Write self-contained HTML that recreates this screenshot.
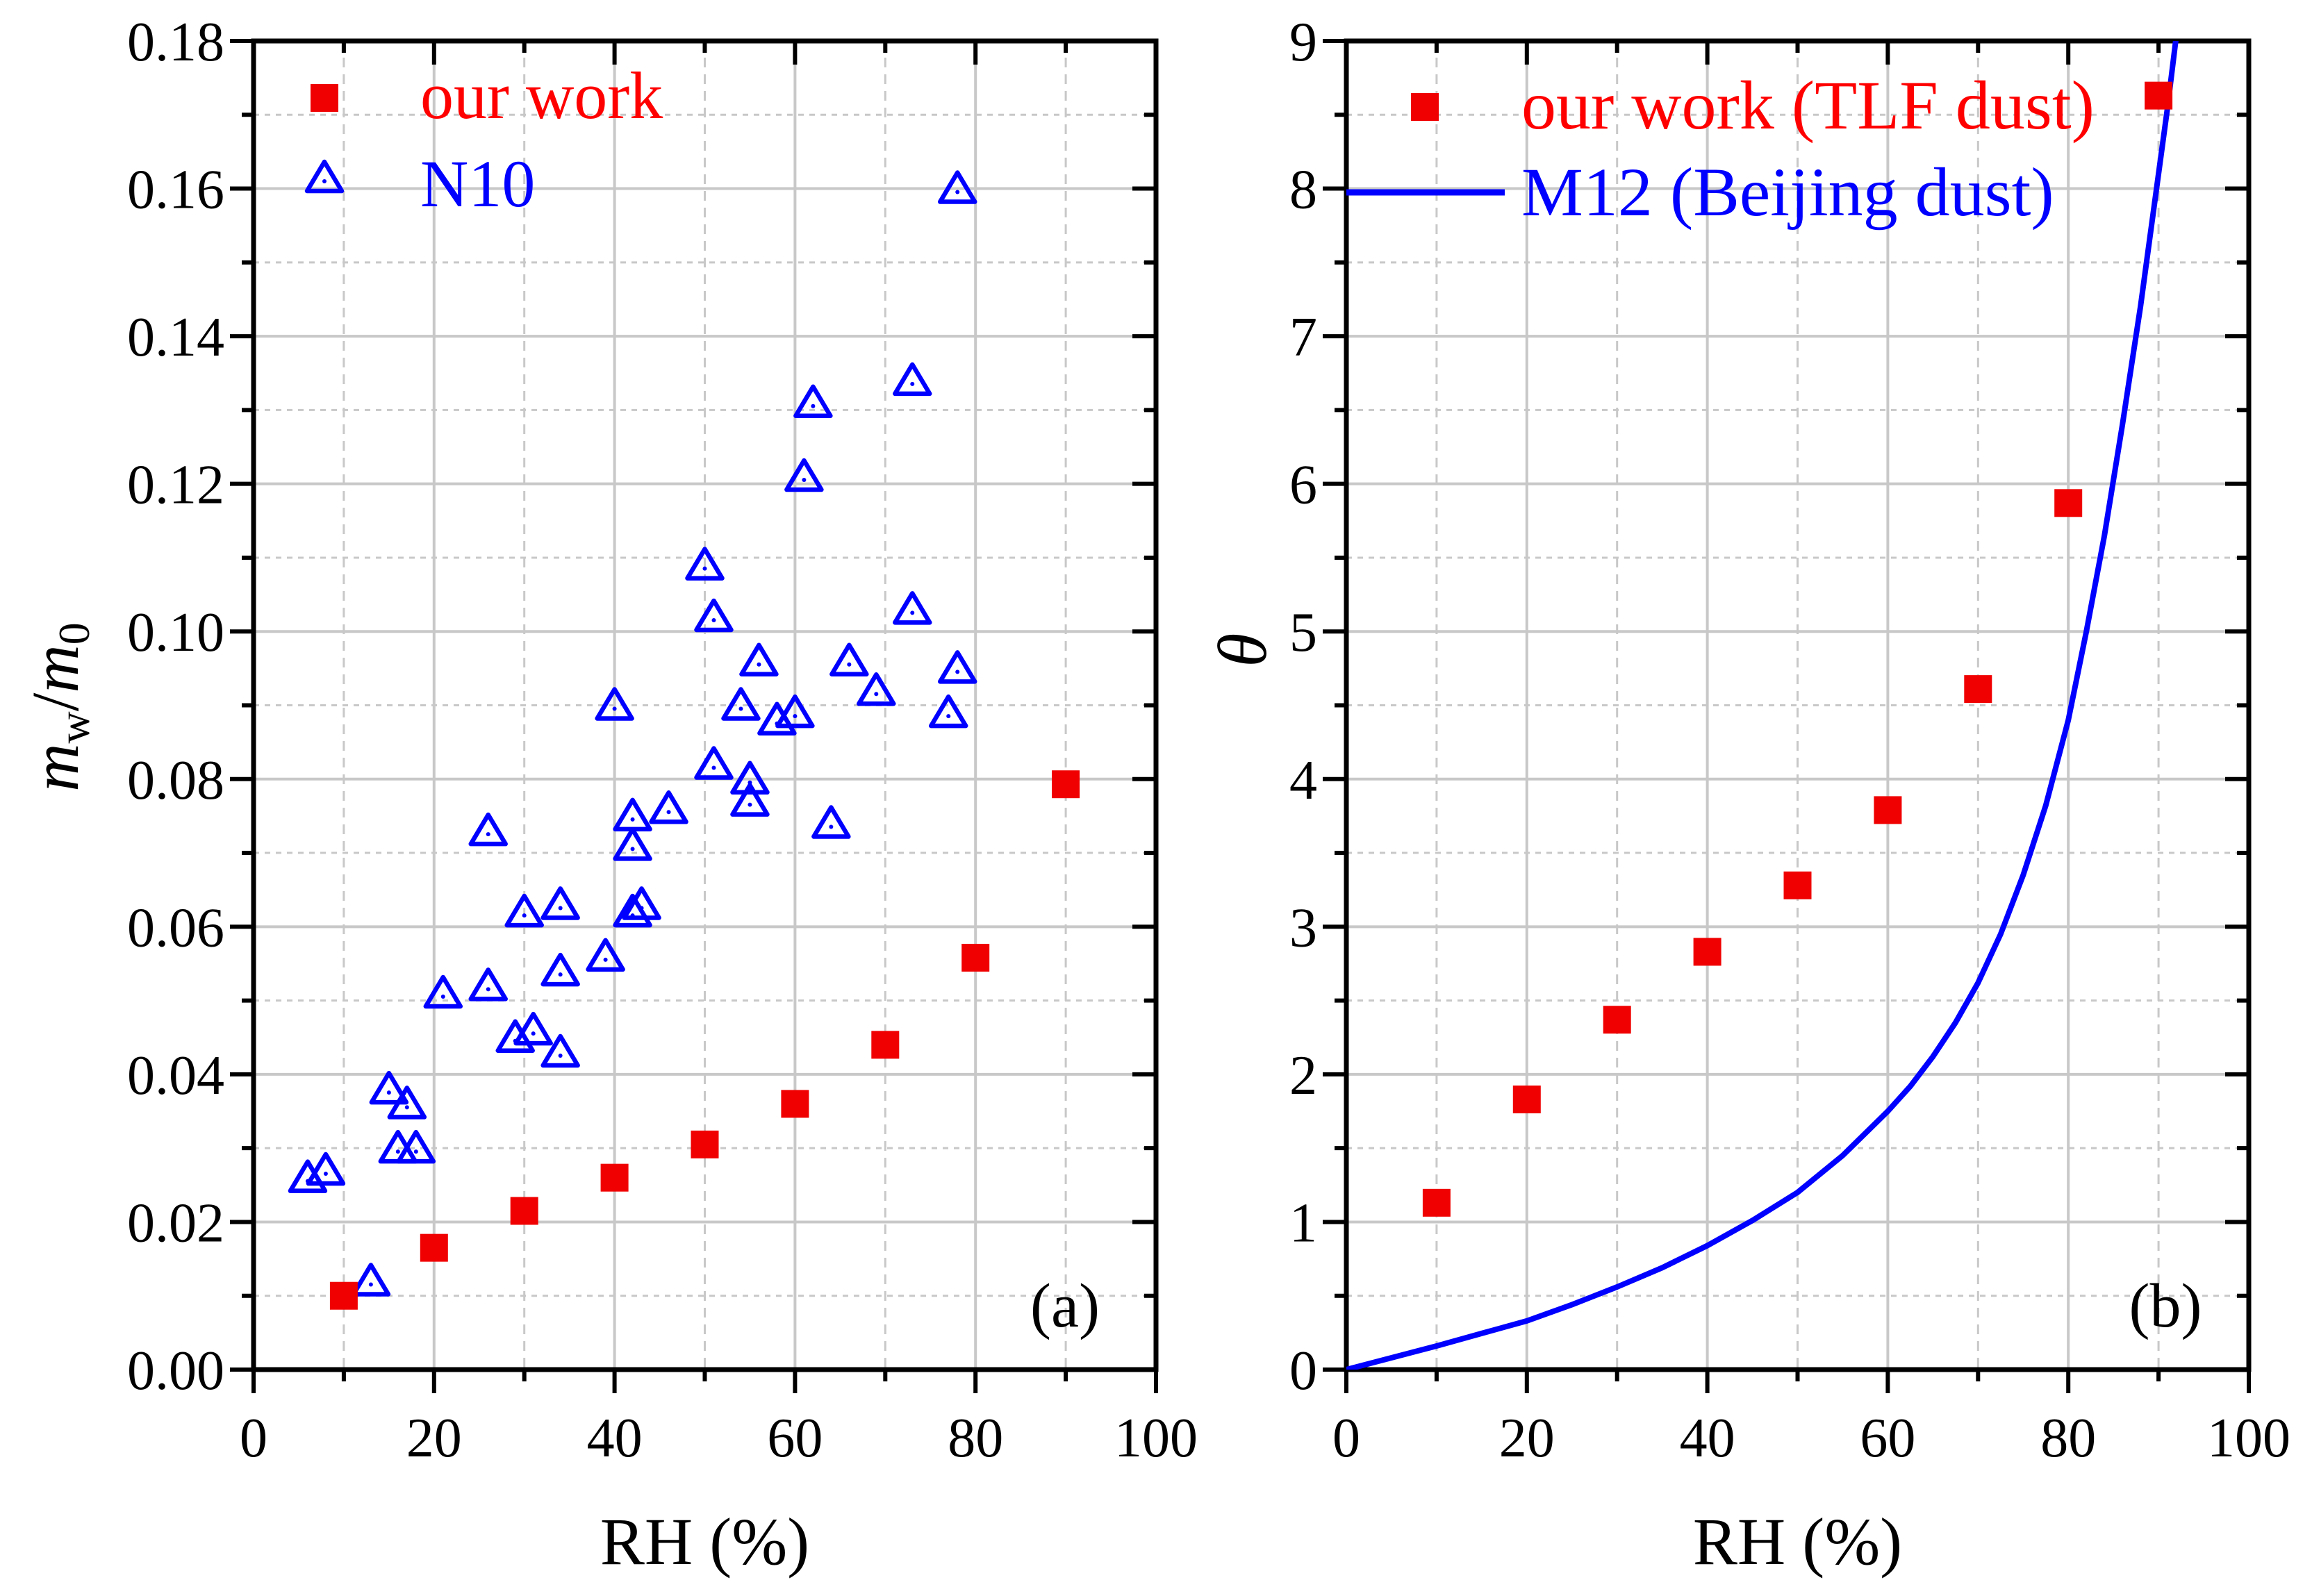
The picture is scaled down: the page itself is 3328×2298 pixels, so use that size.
<!DOCTYPE html>
<html><head><meta charset="utf-8"><style>html,body{margin:0;padding:0;background:#fff}svg{display:block}text{font-family:"Liberation Serif",serif}</style></head>
<body>
<svg id="chart" width="3328" height="2298" viewBox="0 0 3328 2298" xmlns="http://www.w3.org/2000/svg"></svg>
<script>
const ourRH = [10,20,30,40,50,60,70,80,90];
const ourMw = [0.010,0.0165,0.0215,0.026,0.0305,0.036,0.044,0.0558,0.0793];
const n10RH = [6,8,13,15,16,17,18,21,26,26,29,30,31,34,34,34,39,40,42,42,42,43,46,50,51,51,54,55,55,56,58,60,61,62,64,66,69,73,73,77,78,78];
const n10Mw = [0.026,0.027,0.012,0.038,0.030,0.036,0.030,0.051,0.073,0.052,0.045,0.062,0.046,0.063,0.054,0.043,0.056,0.090,0.075,0.071,0.062,0.063,0.076,0.109,0.102,0.082,0.090,0.080,0.077,0.096,0.088,0.089,0.121,0.131,0.074,0.096,0.092,0.134,0.103,0.089,0.095,0.160];
const ourTheta = [1.13,1.83,2.37,2.83,3.28,3.79,4.61,5.87,8.63];
const m12RH = [0,5,10,15,20,25,30,35,40,45,50,55,60,62.5,65,67.5,70,72.5,75,77.5,80,82,84,86,88,90,91,92];
const m12Theta = [0,0.08,0.16,0.245,0.33,0.44,0.56,0.69,0.84,1.01,1.2,1.45,1.75,1.92,2.12,2.35,2.62,2.95,3.35,3.82,4.4,5.0,5.65,6.4,7.2,8.1,8.55,9.05];
const xTicks = [0,20,40,60,80,100];
const yTicksA = [0,0.02,0.04,0.06,0.08,0.10,0.12,0.14,0.16,0.18];
const yTicksB = [0,1,2,3,4,5,6,7,8,9];

const NS='http://www.w3.org/2000/svg';
const svg=document.getElementById('chart');
function mk(tag,attrs,parent,txt){const e=document.createElementNS(NS,tag);for(const k in attrs)e.setAttribute(k,attrs[k]);if(txt!==undefined)e.textContent=txt;(parent||svg).appendChild(e);return e;}
const Y0=1972,Y1=59;
function panel(x0,x1,ymax,yTicks,fmt,name){
  const sx=v=>x0+(v/100)*(x1-x0);
  const sy=v=>Y0-(v/ymax)*(Y0-Y1);
  const g=mk('g',{});
  
  
  for(let v=10;v<100;v+=10){const solid=v%20===0;
    mk('line',{x1:sx(v),x2:sx(v),y1:Y1,y2:Y0,stroke:'#c8c8c8','stroke-width':solid?4:3,'stroke-dasharray':solid?'none':'14 10'},g);}
  const step=yTicks[1]-yTicks[0];
  for(let i=0;i<yTicks.length*2-1;i++){const v=i*step/2;if(i===0||v>=ymax-1e-9)continue;const solid=i%2===0;
    mk('line',{x1:x0,x2:x1,y1:sy(v),y2:sy(v),stroke:'#c8c8c8','stroke-width':solid?4:3,'stroke-dasharray':solid?'none':'8 8'},g);}
  for(let v=0;v<=100;v+=10){const maj=v%20===0;
    mk('line',{x1:sx(v),x2:sx(v),y1:Y0,y2:Y0+(maj?34:17),stroke:'#000','stroke-width':6},g);
    mk('line',{x1:sx(v),x2:sx(v),y1:Y1,y2:Y1+(maj?34:17),stroke:'#000','stroke-width':6},g);}
  for(let i=0;i<yTicks.length*2-1;i++){const v=i*step/2;const maj=i%2===0;
    mk('line',{x1:x0,x2:x0-(maj?34:17),y1:sy(v),y2:sy(v),stroke:'#000','stroke-width':6},g);
    mk('line',{x1:x1,x2:x1-(maj?34:17),y1:sy(v),y2:sy(v),stroke:'#000','stroke-width':6},g);}
  mk('rect',{x:x0,y:Y1,width:x1-x0,height:Y0-Y1,fill:'none',stroke:'#000','stroke-width':7},g);
  xTicks.forEach(v=>{const t=mk('text',{x:sx(v),y:2097,'font-size':80,'text-anchor':'middle'},g,String(v));
    });
  yTicks.forEach(v=>{const t=mk('text',{x:x0-42,y:sy(v)+28,'font-size':80,'text-anchor':'end'},g,fmt(v));
    });
  const xt=mk('text',{x:(x0+x1)/2,y:2252,'font-size':96,'text-anchor':'middle'},g,'RH (%)');
  
  return {sx,sy,g};
}
function tri(cx,cy,parent){
  const p=mk('path',{d:`M${cx},${cy-23} L${cx+25},${cy+19} L${cx-25},${cy+19} Z`,fill:'none',stroke:'#0000ff','stroke-width':6.5,'stroke-linejoin':'round'},parent);
  mk('circle',{cx:cx,cy:cy+5,r:3,fill:'#0000ff'},parent);
  return p;
}
const A=panel(365,1664,0.18,yTicksA,v=>v.toFixed(2),'panel-a');
n10RH.forEach((r,i)=>{const p=tri(A.sx(r),A.sy(n10Mw[i]),A.g);
  });
ourRH.forEach((r,i)=>{const cx=A.sx(r),cy=A.sy(ourMw[i]);
  const s=mk('rect',{x:cx-20,y:cy-20,width:40,height:40,fill:'#f00000'},A.g);
  });
let e=mk('rect',{x:447,y:121,width:40,height:40,fill:'#f00000'});
e=mk('text',{x:605,y:170,'font-size':96,fill:'#ff0000'},svg,'our work');
e=tri(467,256,svg);
e=mk('text',{x:605,y:297,'font-size':96,fill:'#0000ff'},svg,'N10');
e=mk('text',{x:1533,y:1910,'font-size':90,'text-anchor':'middle'},svg,'(a)');
e=mk('text',{x:0,y:0,'font-size':96,'text-anchor':'middle',transform:'translate(112,1018) rotate(-90)'},svg);

mk('tspan',{'font-style':'italic'},e,'m');mk('tspan',{'font-size':64,dy:16},e,'w');mk('tspan',{dy:-16},e,'/');mk('tspan',{'font-style':'italic'},e,'m');mk('tspan',{'font-size':64,dy:16},e,'0');

const B=panel(1938,3237,9,yTicksB,v=>String(v),'panel-b');
const cp=mk('clipPath',{id:'clipB'},B.g);mk('rect',{x:1938,y:Y1,width:1299,height:Y0-Y1},cp);
const d=m12RH.map((r,i)=>(i?'L':'M')+B.sx(r).toFixed(1)+','+B.sy(m12Theta[i]).toFixed(1)).join(' ');
e=mk('path',{d:d,fill:'none',stroke:'#0000ff','stroke-width':8,'stroke-linejoin':'round','clip-path':'url(#clipB)'},B.g);
ourRH.forEach((r,i)=>{const cx=B.sx(r),cy=B.sy(ourTheta[i]);
  const s=mk('rect',{x:cx-20,y:cy-20,width:40,height:40,fill:'#f00000'},B.g);
  });
e=mk('rect',{x:2031,y:134,width:40,height:40,fill:'#f00000'});
e=mk('text',{x:2190,y:185,'font-size':100,fill:'#ff0000'},svg,'our work (TLF dust)');
e=mk('line',{x1:1938,x2:2166,y1:277,y2:277,stroke:'#0000ff','stroke-width':9});
e=mk('text',{x:2190,y:310,'font-size':100,fill:'#0000ff'},svg,'M12 (Beijing dust)');
e=mk('text',{x:3117,y:1910,'font-size':90,'text-anchor':'middle'},svg,'(b)');
e=mk('text',{x:0,y:0,'font-size':100,'font-style':'italic','text-anchor':'middle',transform:'translate(1822,936) rotate(-90)'},svg,'θ');

</script>
</body></html>
